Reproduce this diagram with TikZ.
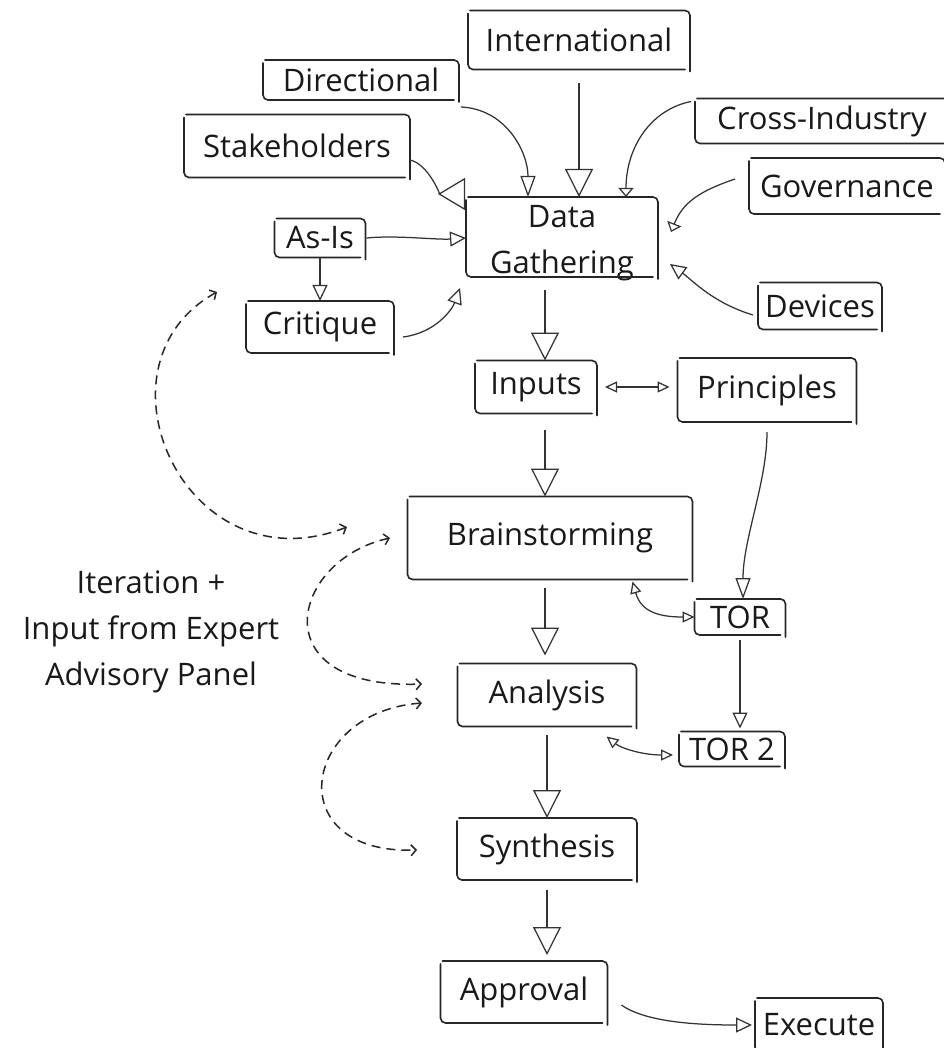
\documentclass[tikz,border=0pt]{standalone}
\usepackage{fontspec}
\setmainfont{Open Sans}
\usetikzlibrary{arrows.meta}
\tikzset{
  BigTip/.tip={Triangle[open,width=28pt,length=28pt]},
  MidTip/.tip={Triangle[open,width=15pt,length=16pt]},
  LongTip/.tip={Triangle[open,width=15pt,length=21pt]},
  FlatTip/.tip={Triangle[open,width=15pt,length=9pt]},
  SmlTip/.tip={Triangle[open,width=11pt,length=12pt]},
  StakeTip/.tip={Triangle[open,reversed,width=32pt,length=27pt]},
  BarbTip/.tip={Straight Barb[length=5pt,width=11pt]},
  lbl/.style={font=\fontsize{31}{46}\selectfont, align=center, inner sep=0pt, outer sep=0pt, text=black!90},
  boxline/.style={draw=black!85, line width=1.6pt, rounded corners=5pt, line cap=round},
  conn/.style={draw=black!80, line width=1.25pt, line join=round},
  dashconn/.style={draw=black!85, line width=1.5pt, dash pattern=on 9pt off 6pt, {BarbTip}-{BarbTip}},
}
\newcommand\skb[1]{%
  \draw[boxline] ([xshift=2pt]#1.north west) -- (#1.north east) -- ([yshift=-2pt]#1.south east);
  \draw[boxline] ([yshift=-3pt]#1.north west) -- (#1.south west) -- ([xshift=-5pt]#1.south east);
}
\begin{document}
\begin{tikzpicture}[x=1pt,y=-1pt]
\useasboundingbox[fill=white] (0,0) rectangle (943,1048);

% nodes
\node[lbl, minimum width=222pt, minimum height=59pt] (intl) at (579,40) {International};
\node[lbl, minimum width=196pt, minimum height=40pt] (dir) at (361,80) {Directional};
\node[lbl, minimum width=254pt, minimum height=45pt] (cross) at (822,121) {Cross-Industry};
\node[lbl, minimum width=196pt, minimum height=56pt] (gov) at (847,186) {Governance};
\node[lbl, minimum width=124pt, minimum height=47pt] (dev) at (820,306) {Devices};
\node[lbl, minimum width=226pt, minimum height=63pt] (stake) at (297,146) {Stakeholders};
\node[lbl, minimum width=91pt, minimum height=39pt] (asis) at (320,238) {As-Is};
\node[lbl, minimum width=192pt, minimum height=80pt] (dg) at (562,237) {\raisebox{-11pt}[36pt][36pt]{\begin{tabular}{@{}c@{}}Data\\Gathering\end{tabular}}};
\node[lbl, minimum width=148pt, minimum height=52pt] (crit) at (320,327) {Critique};
\node[lbl, minimum width=122pt, minimum height=53pt] (inputs) at (536,387) {Inputs};
\node[lbl, minimum width=179pt, minimum height=64pt] (princ) at (767,390) {Principles};
\node[lbl, minimum width=285pt, minimum height=83pt] (brain) at (550,538) {Brainstorming};
\node[lbl, minimum width=91pt, minimum height=36pt] (tor) at (740,617) {TOR};
\node[lbl, minimum width=179pt, minimum height=63pt] (anal) at (547,695) {Analysis};
\node[lbl, minimum width=106pt, minimum height=35pt] (tor2) at (732,749) {TOR 2};
\node[lbl, minimum width=180pt, minimum height=62pt] (synth) at (547,849) {Synthesis};
\node[lbl, minimum width=167pt, minimum height=62pt] (appr) at (524,992) {Approval};
\node[lbl, minimum width=128pt, minimum height=54pt] (exec) at (819,1025) {Execute};
\node[lbl] (iter) at (151,632) {Iteration +\\Input from Expert\\Advisory Panel};

% sketchy boxes
\foreach \n in {intl,dir,cross,gov,dev,stake,asis,dg,crit,inputs,princ,brain,tor,anal,tor2,synth,appr,exec}{\skb{\n}}

% connectors into Data Gathering
\draw[conn,-{BigTip}] ([yshift=-14pt]intl.south) -- (intl.south |- dg.north);
\draw[conn,-{LongTip}] ([shift={(2,7)}]dir.south east) .. controls +(45,2) and +(0,-45) .. ([xshift=62pt]dg.north west);
\draw[conn,-{FlatTip}] ([shift={(-4,3)}]cross.north west) .. controls +(-40,8) and +(0,-50) .. ([xshift=160pt]dg.north west);
\draw[conn,-{FlatTip}] ([shift={(-14,-7)}]gov.west) .. controls +(-35,12) and +(12,-30) .. ([shift={(13,-5)}]dg.east);
\draw[conn,-{MidTip}] ([shift={(-5,9)}]dev.west) .. controls +(-40,-12) and +(22,16) .. ([shift={(12,27)}]dg.east);
\draw[conn,-{StakeTip}] ([yshift=-14pt]stake.east) .. controls +(18,4) and +(-25,0) .. ([shift={(-1,-3)}]dg.north west);
\draw[conn,-{MidTip}] ([xshift=1pt]asis.east) .. controls +(30,-3) and +(-30,2) .. (asis.east -| dg.west);
\draw[conn,-{MidTip}] (asis.south) -- (crit.north);
\draw[conn,-{MidTip}] ([shift={(9,10)}]crit.east) .. controls +(32,-4) and +(-8,22) .. ([shift={(-6,11)}]dg.south west);

% main flow
\draw[conn,-{BigTip}] ([xshift=9pt]inputs.north |- dg.south) ++(0,13) -- ([xshift=9pt]inputs.north);
\draw[conn,{SmlTip}-{SmlTip}] ([xshift=8pt]inputs.east) -- ([xshift=-8pt]inputs.east -| princ.west);
\draw[conn,-{BigTip}] ([xshift=9pt,yshift=-16pt]inputs.south) -- ([xshift=9pt]inputs.south |- brain.north);
\draw[conn,-{LongTip}] ([yshift=-10pt]princ.south) .. controls +(0,50) and +(0,-60) .. ([xshift=3pt]tor.north);
\draw[conn,{SmlTip}-{SmlTip}] ([shift={(-60,2)}]brain.south east) .. controls +(8,28) and +(-40,0) .. (tor.west);
\draw[conn,-{BigTip}] ([xshift=-5pt,yshift=-8pt]brain.south) -- ([xshift=-2pt,yshift=8pt]anal.north);
\draw[conn,-{MidTip}] ([yshift=-5pt]tor.south) -- ([yshift=3pt]tor.south |- tor2.north);
\draw[conn,{SmlTip}-{SmlTip}] ([shift={(-30,10)}]anal.south east) .. controls +(15,12) and +(-30,0) .. ([shift={(-6,6)}]tor2.west);
\draw[conn,-{BigTip}] ([yshift=-8pt]anal.south) -- (synth.north);
\draw[conn,-{BigTip}] ([yshift=-10pt]synth.south) -- ([yshift=6pt]synth.south |- appr.north);
\draw[conn,-{MidTip}] ([shift={(14,13)}]appr.east) .. controls +(25,18) and +(-50,0) .. ([xshift=-3pt]exec.west);

% dashed iteration loops
\coordinate (l1a) at (217,292);
\coordinate (l1b) at (347,527);
\coordinate (l2a) at (390,538);
\coordinate (l2b) at (422,684);
\coordinate (l3a) at (422,703);
\coordinate (l3b) at (417,850);
\draw[dashconn] (l1a) .. controls (85,365) and (185,590) .. (l1b);
\draw[dashconn] (l2a) .. controls (290,560) and (260,690) .. (l2b);
\draw[dashconn] (l3a) .. controls (300,712) and (280,855) .. (l3b);
\end{tikzpicture}
\end{document}
